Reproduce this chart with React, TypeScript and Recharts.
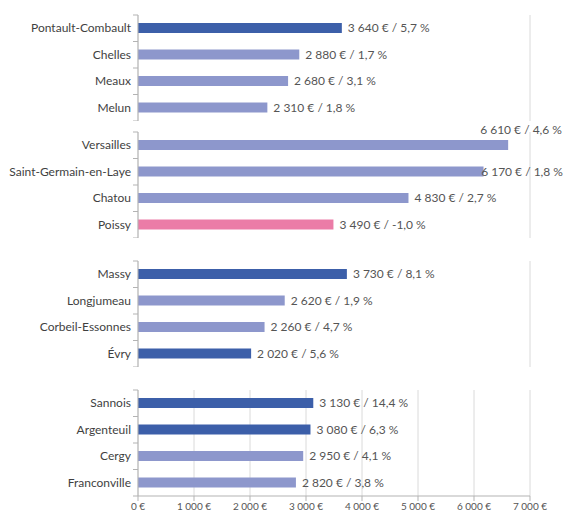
import { Bar, BarChart, CartesianGrid, Cell, LabelList, XAxis, YAxis } from "recharts";

// prix moyen au m² par ville, regroupés par secteur (4 villes par bloc)
const cities = [
  "Pontault-Combault", "Chelles", "Meaux", "Melun",
  "Versailles", "Saint-Germain-en-Laye", "Chatou", "Poissy",
  "Massy", "Longjumeau", "Corbeil-Essonnes", "Évry",
  "Sannois", "Argenteuil", "Cergy", "Franconville",
];
const prices = [
  3640, 2880, 2680, 2310,
  6610, 6170, 4830, 3490,
  3730, 2620, 2260, 2020,
  3130, 3080, 2950, 2820,
];
const changes = [
  5.7, 1.7, 3.1, 1.8,
  4.6, 1.8, 2.7, -1.0,
  8.1, 1.9, 4.7, 5.6,
  14.4, 6.3, 4.1, 3.8,
];
const tones = [
  "dark", "light", "light", "light",
  "light", "light", "light", "pink",
  "dark", "light", "light", "dark",
  "dark", "dark", "light", "light",
];
const groupSizes = [4, 4, 4, 4];
const priceTicks = [0, 1000, 2000, 3000, 4000, 5000, 6000, 7000];

const toneColors: Record<string, string> = {
  dark: "#3c5fa9",
  light: "#8d97cc",
  pink: "#eb7ca7",
};

// body margin is reset below, so svg coords == page coords
const W = 564;
const H = 516;
const PLOT_H = 106;
const PLOT_TOPS = [15, 132, 261, 390];
const TOP_PAD = 12;
const AXIS_W = 138;
const AXIS_COLOR = "#b3b3b3";
const GRID_COLOR = "#dadada";
const FONT = "Lato, 'Open Sans', sans-serif";
const LABEL_SIZE = 12;

const euros = (n: number) =>
  String(n).replace(/\B(?=(\d{3})+(?!\d))/g, "\u00a0") + "\u00a0€";
const pct = (n: number) => n.toFixed(1).replace(".", ",") + "\u00a0%";

type Row = { city: string; price: number; label: string; tone: string };

const rows: Row[] = cities.map((city, i) => ({
  city,
  price: prices[i],
  label: `${euros(prices[i])} / ${pct(changes[i])}`,
  tone: tones[i],
}));

const groups: Row[][] = [];
{
  let start = 0;
  for (const size of groupSizes) {
    groups.push(rows.slice(start, start + size));
    start += size;
  }
}

function CityTick(props: any) {
  const { x, y, payload, index, visibleTicksCount, band } = props;
  const axisX = x + 7;
  const half = band / 2;
  return (
    <g>
      <text x={x} y={y} dy={4} textAnchor="end" fontSize={12} fill="#3f3f3f" fontFamily={FONT}>
        {payload.value}
      </text>
      <line x1={axisX - 5} x2={axisX} y1={y - half} y2={y - half} stroke={AXIS_COLOR} />
      {index === visibleTicksCount - 1 && (
        <line x1={axisX - 5} x2={axisX} y1={y + half} y2={y + half} stroke={AXIS_COLOR} />
      )}
    </g>
  );
}

function ValueLabel(props: any) {
  const { x, y, width, height, value } = props;
  const text = String(value);
  const estW = text.length * 5.35;
  const startX = x + width + 6;
  const limit = W - 1;
  const overflow = startX + estW - limit;
  // Excel nudges labels back inside, or lifts them above the bar when they don't fit
  if (overflow > 12) {
    return (
      <text x={limit - 1} y={y - 6} textAnchor="end" fontSize={LABEL_SIZE} fill="#555" fontFamily={FONT}>
        {text}
      </text>
    );
  }
  if (overflow > 0) {
    return (
      <text x={limit} y={y + height / 2} dy={4} textAnchor="end" fontSize={LABEL_SIZE} fill="#555" fontFamily={FONT}>
        {text}
      </text>
    );
  }
  return (
    <text x={startX} y={y + height / 2} dy={4} fontSize={LABEL_SIZE} fill="#555" fontFamily={FONT}>
      {text}
    </text>
  );
}

function Panel({ data, top, withAxis }: { data: Row[]; top: number; withAxis: boolean }) {
  const axisH = withAxis ? 20 : 0;
  const band = PLOT_H / data.length;
  return (
    <div style={{ position: "absolute", left: 0, top: top - TOP_PAD }}>
      <BarChart
        width={W}
        height={TOP_PAD + PLOT_H + axisH}
        data={data}
        layout="vertical"
        barCategoryGap={0}
        margin={{ top: TOP_PAD, right: 34, bottom: 0, left: 0 }}
      >
        <CartesianGrid horizontal={false} stroke={GRID_COLOR} />
        <XAxis
          type="number"
          domain={[0, 7000]}
          ticks={priceTicks}
          height={axisH}
          axisLine={withAxis ? { stroke: AXIS_COLOR } : false}
          tickLine={withAxis ? { stroke: AXIS_COLOR } : false}
          tickSize={5}
          tickMargin={2}
          tick={withAxis ? { fontSize: 10, fill: "#555", fontFamily: FONT } : false}
          tickFormatter={(v: number) => euros(v)}
        />
        <YAxis
          type="category"
          dataKey="city"
          width={AXIS_W}
          axisLine={{ stroke: AXIS_COLOR }}
          tickLine={false}
          tickSize={0}
          tickMargin={7}
          interval={0}
          tick={<CityTick band={band} />}
        />
        <Bar dataKey="price" barSize={10} isAnimationActive={false}>
          {data.map((d) => (
            <Cell key={d.city} fill={toneColors[d.tone]} />
          ))}
          <LabelList dataKey="label" content={<ValueLabel />} />
        </Bar>
      </BarChart>
    </div>
  );
}

export default function App() {
  return (
    <div style={{ position: "relative", width: W, height: H, overflow: "hidden", fontFamily: FONT, background: "#fff" }}>
      <style>{"body { margin: 0; }"}</style>
      {groups.map((g, i) => (
        <Panel key={i} data={g} top={PLOT_TOPS[i]} withAxis={i === groups.length - 1} />
      ))}
    </div>
  );
}
